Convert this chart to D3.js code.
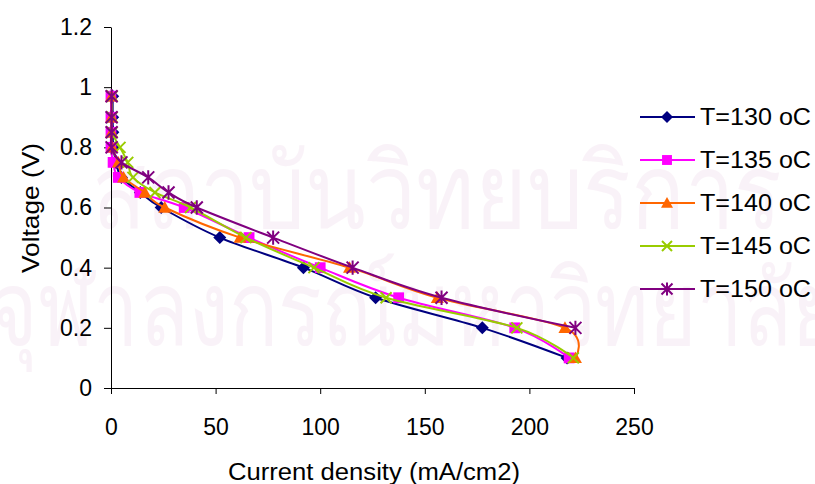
<!DOCTYPE html>
<html>
<head>
<meta charset="utf-8">
<script src="https://cdn.jsdelivr.net/npm/d3@7"></script>
<style>
  body { margin: 0; background: #fff; }
  svg text { font-family: Arial, "Liberation Sans", sans-serif; fill: #000; }
</style>
</head>
<body>
<svg width="815" height="484"></svg>
<script>
// voltage levels (V) shared by all runs
var voltage = [0.97, 0.9, 0.85, 0.8, 0.75, 0.7, 0.65, 0.6, 0.5, 0.4, 0.3, 0.2, 0.1];
// current density (mA/cm2) at each voltage level
var current130 = [0.8, 0.8, 0.9, 1.0, 2.5, 5, 14, 24, 52, 92, 126.5, 177.5, 218];
var current135 = [0, 0, 0, 0, 1, 3.5, 13.8, 35, 66, 100, 137.5, 193, 219];
var current140 = [0.3, 0.3, 0.3, 0.5, 3.5, 6, 16.2, 25.7, 61.7, 114, 156, 217, 222];
var current145 = [0.5, 0.5, 0.5, 4.3, 8, 10.5, 21, 38, 64.5, 97, 131.5, 194, 221];
var current150 = [0.3, 0.3, 0.3, 0.3, 5, 17.8, 27.5, 41, 77.5, 115.5, 158, 222];
var seriesNames = ["T=130 oC", "T=135 oC", "T=140 oC", "T=145 oC", "T=150 oC"];
var xTicks = [0, 50, 100, 150, 200, 250];
var yTicks = [0, 0.2, 0.4, 0.6, 0.8, 1, 1.2];

var colors = ["#000080", "#FF00FF", "#FF6600", "#99CC00", "#800080"];
var markers = ["diamond", "square", "triangle", "cross", "star"];
var currents = [current130, current135, current140, current145, current150];

var series = currents.map(function(c, i) {
  return {
    name: seriesNames[i], color: colors[i], marker: markers[i],
    points: c.map(function(x, j) { return [x, voltage[j]]; })
  };
});

var svg = d3.select("svg");
var plotLeft = 111, plotRight = 634, plotTop = 27, plotBottom = 388;

var xScale = d3.scaleLinear().domain([0, 250]).range([plotLeft, plotRight]);
var yScale = d3.scaleLinear().domain([0, 1.2]).range([plotBottom, plotTop]);

// faint watermark behind the plot
var wm = svg.append("g").style("opacity", 0.33);
wm.append("text").attr("x", 92).attr("y", 228).style("font-size", "104px").style("fill", "#efd9ea")
  .attr("textLength", 690).attr("lengthAdjust", "spacingAndGlyphs")
  .text("สถาบันวิทยบริการ");
wm.append("text").attr("x", -10).attr("y", 345).style("font-size", "104px").style("fill", "#efd9ea")
  .attr("textLength", 850).attr("lengthAdjust", "spacingAndGlyphs")
  .text("จุฬาลงกรณ์มหาวิทยาลัย");

// axes
var yAxis = d3.axisLeft(yScale).tickValues(yTicks).tickSize(7).tickSizeOuter(0).tickPadding(12)
  .tickFormat(function(d) { return d3.format("")(+d.toFixed(1)); });
var xAxis = d3.axisBottom(xScale).tickValues(xTicks).tickSize(6).tickSizeOuter(0).tickPadding(25);

var gy = svg.append("g").attr("transform", "translate(" + plotLeft + ",0)").call(yAxis);
var gx = svg.append("g").attr("transform", "translate(0," + plotBottom + ")").call(xAxis);
[gx, gy].forEach(function(g) {
  g.selectAll("path, line").attr("stroke", "#000").attr("stroke-width", 1);
  g.selectAll("text").style("font-size", "23px").attr("fill", "#000");
});

svg.append("text").attr("x", 374).attr("y", 480)
  .attr("text-anchor", "middle").style("font-size", "23px")
  .attr("textLength", 292).attr("lengthAdjust", "spacingAndGlyphs")
  .text("Current density (mA/cm2)");
svg.append("text").attr("transform", "translate(39,208) rotate(-90)")
  .attr("text-anchor", "middle").style("font-size", "24px")
  .attr("textLength", 130).attr("lengthAdjust", "spacingAndGlyphs")
  .text("Voltage (V)");

function markerPath(type, s) {
  if (type == "diamond") return "M0," + (-s) + "L" + s + ",0L0," + s + "L" + (-s) + ",0Z";
  if (type == "square") { var h = s * 0.9; return "M" + (-h) + "," + (-h) + "H" + h + "V" + h + "H" + (-h) + "Z"; }
  if (type == "triangle") return "M0," + (-s) + "L" + s + "," + (s * 0.8) + "L" + (-s) + "," + (s * 0.8) + "Z";
  if (type == "cross") return "M" + (-s) + "," + (-s) + "L" + s + "," + s + "M" + (-s) + "," + s + "L" + s + "," + (-s);
  return "M" + (-s) + "," + (-s) + "L" + s + "," + s + "M" + (-s) + "," + s + "L" + s + "," + (-s) + "M0," + (-s * 1.2) + "V" + (s * 1.2);
}
function drawMarker(g, type, color, s) {
  var filled = (type == "diamond" || type == "square" || type == "triangle");
  g.append("path").attr("d", markerPath(type, s))
    .attr("fill", filled ? color : "none")
    .attr("stroke", color).attr("stroke-width", filled ? 0 : 2);
}

var line = d3.line()
  .x(function(d) { return xScale(d[0]); })
  .y(function(d) { return yScale(d[1]); })
  .curve(d3.curveCardinal.tension(0));

var sizes = { diamond: 6.5, square: 6, triangle: 6.5, cross: 5.5, star: 6 };

series.forEach(function(s) {
  var g = svg.append("g");
  g.append("path").attr("d", line(s.points)).attr("fill", "none")
    .attr("stroke", s.color).attr("stroke-width", 2);
  s.points.forEach(function(p) {
    var m = g.append("g").attr("transform", "translate(" + xScale(p[0]) + "," + yScale(p[1]) + ")");
    drawMarker(m, s.marker, s.color, sizes[s.marker]);
  });
});

// legend
var legend = svg.append("g");
series.forEach(function(s, i) {
  var y = 117 + i * 43;
  legend.append("line").attr("x1", 640).attr("x2", 695).attr("y1", y).attr("y2", y)
    .attr("stroke", s.color).attr("stroke-width", 2);
  var m = legend.append("g").attr("transform", "translate(667," + y + ")");
  drawMarker(m, s.marker, s.color, sizes[s.marker] - 0.5);
  legend.append("text").attr("x", 700).attr("y", y).attr("dy", "0.35em")
    .style("font-size", "23px").attr("textLength", 111).attr("lengthAdjust", "spacingAndGlyphs")
    .text(s.name);
});
</script>
</body>
</html>
